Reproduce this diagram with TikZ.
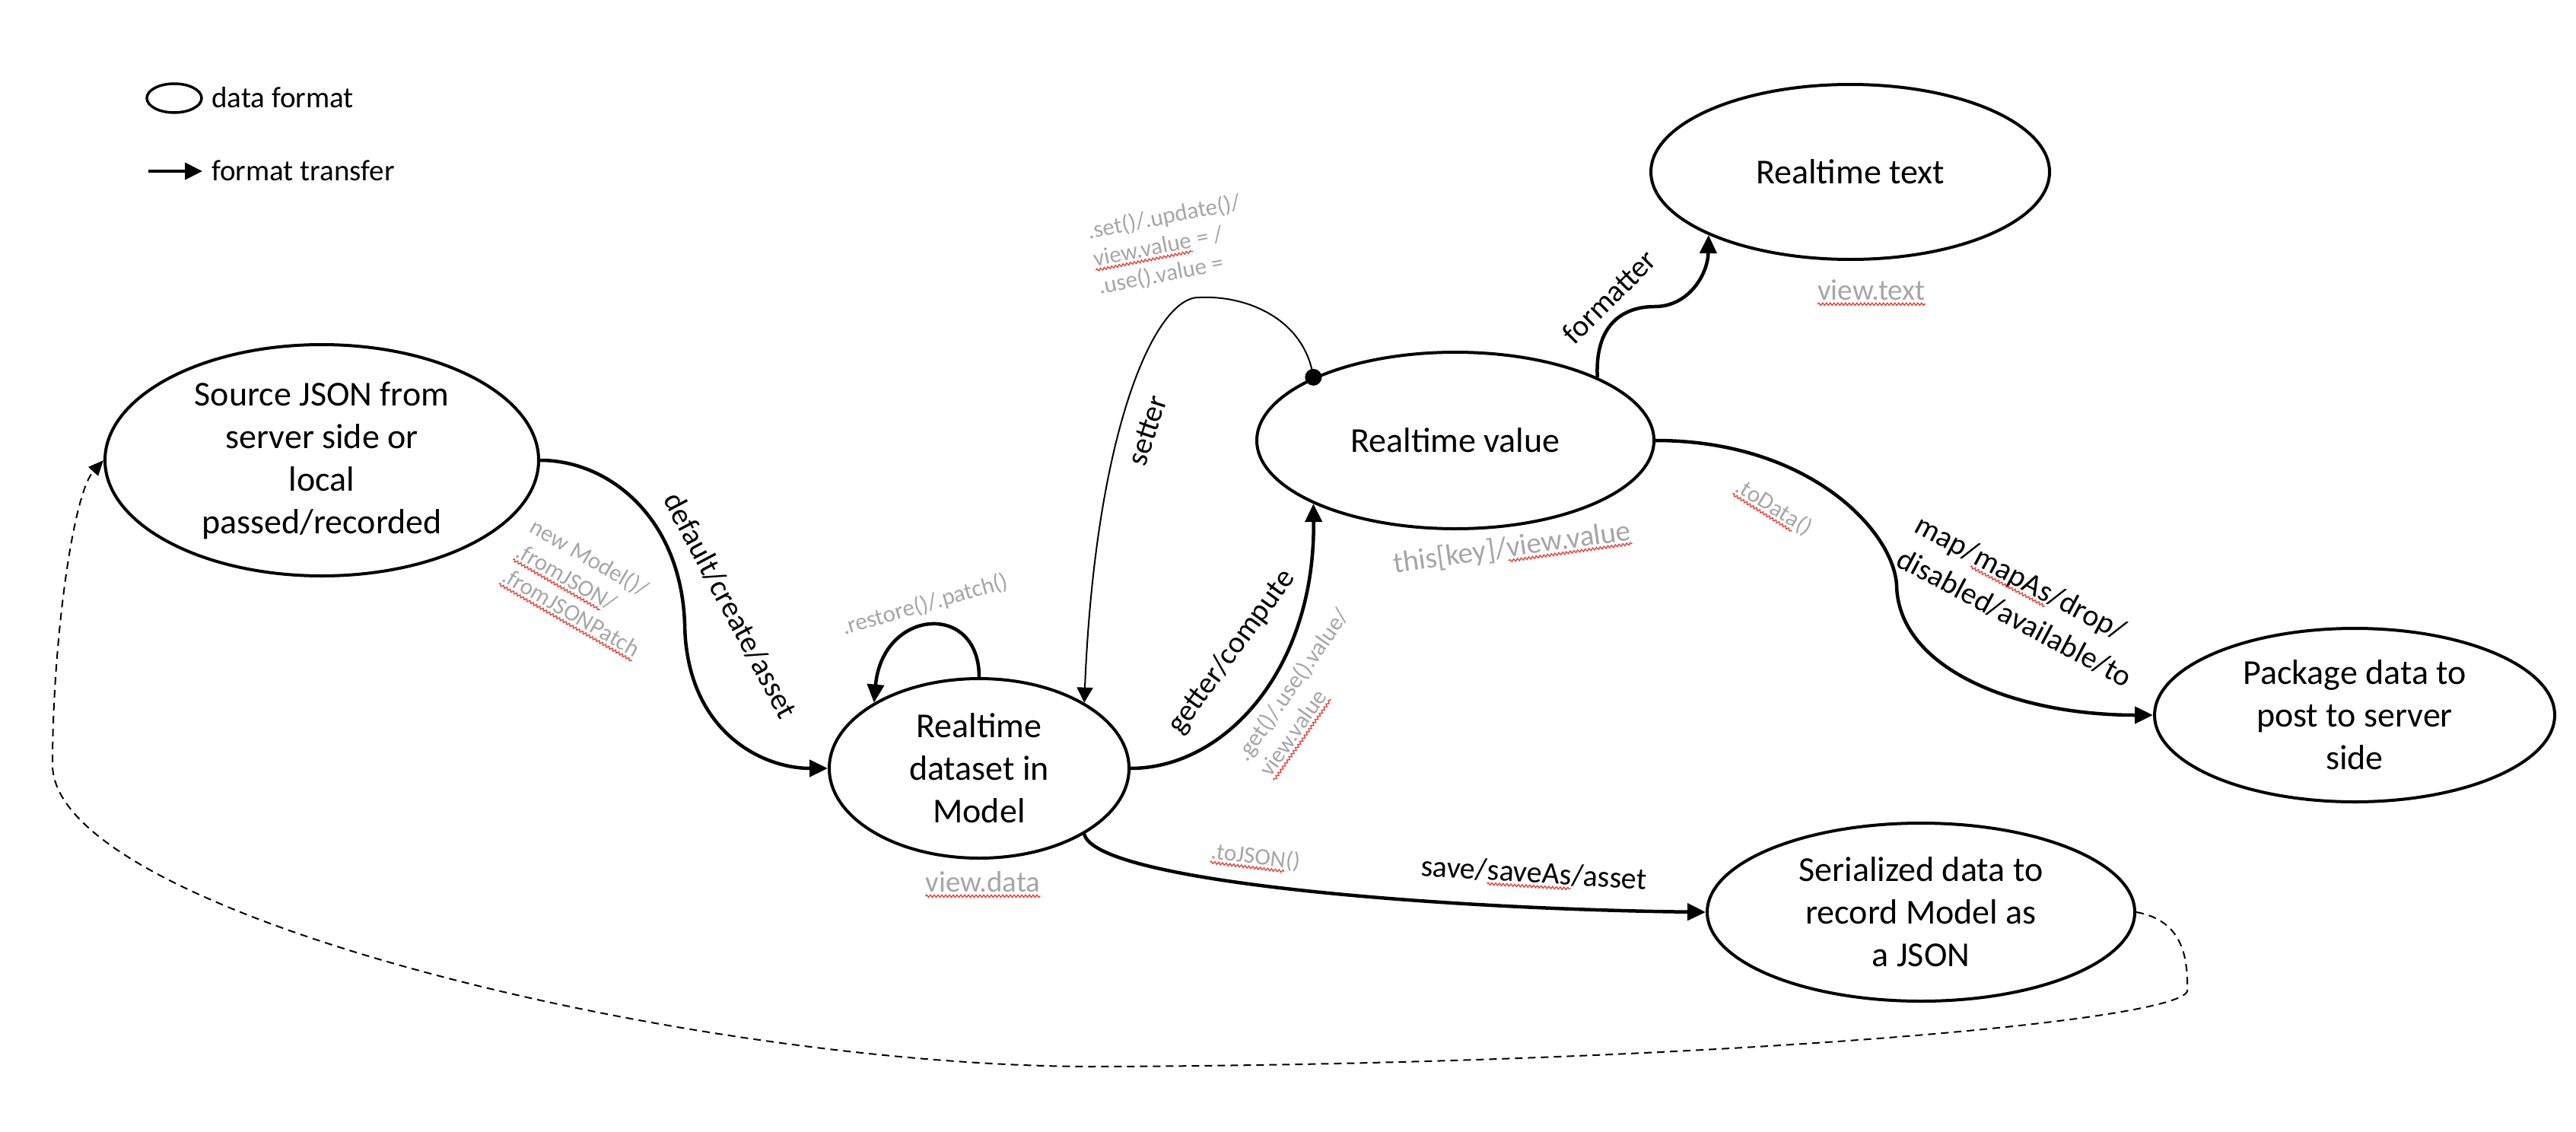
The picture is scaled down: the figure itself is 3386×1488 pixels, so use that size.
\documentclass[tikz,border=0pt]{standalone}
\usepackage{fontspec}
\setmainfont{Carlito}
\usetikzlibrary{arrows.meta,shapes.geometric,decorations.pathmorphing}
\definecolor{lbl}{RGB}{166,166,166}
\definecolor{squig}{RGB}{232,62,50}
\newcommand\sqwave[2]{\tikz[baseline=(sqw.base)]{\node[inner sep=0pt,outer sep=0pt,text=#1](sqw){#2};\draw[squig,line width=1.3pt,decorate,decoration={snake,amplitude=1.6pt,segment length=5pt}]([yshift=-5pt]sqw.base west)--([yshift=-5pt]sqw.base east);}}
\newcommand\sqg[1]{\sqwave{lbl}{#1}}
\newcommand\sqb[1]{\sqwave{black}{#1}}
\begin{document}
\begin{tikzpicture}[x=1pt,y=-1pt,
  ell/.style={draw,ellipse,line width=4pt,inner sep=0pt,align=center,font=\fontsize{46}{56}\selectfont},
  flow/.style={line width=4.5pt,-{Triangle[length=24pt,width=22pt]}},
  thinflow/.style={line width=2pt,-{Triangle[length=20pt,width=21pt]}},
  back/.style={line width=2pt,dash pattern=on 10pt off 7pt,-{Triangle[length=20pt,width=17pt]}},
  elabel/.style={font=\fontsize{40}{50}\selectfont,inner sep=0pt,align=left},
  glabel/.style={font=\fontsize{31}{37}\selectfont,text=lbl,inner sep=0pt,align=left},
  gbig/.style={font=\fontsize{39}{47}\selectfont,text=lbl,inner sep=0pt},
  legtext/.style={font=\fontsize{39}{47}\selectfont,inner sep=0pt,anchor=west}
]
\fill[white] (0,0) rectangle (3386,1488);
\useasboundingbox (0,0) rectangle (3386,1488);

% legend
\node[draw,ellipse,line width=3.5pt,minimum width=72pt,minimum height=38pt,inner sep=0pt] (lgell) at (229,129) {};
\node[legtext] (lgt1) at (278,128) {data format};
\coordinate (la1) at (195,225);
\coordinate (la2) at (266,225);
\draw[line width=4pt,-{Triangle[length=23pt,width=22pt]}] (la1) -- (la2);
\node[legtext] (lgt2) at (278,224) {format transfer};

% nodes
\node[ell,minimum width=570pt,minimum height=304pt] (src) at (423,605) {Source JSON from\\server side or\\local\\passed/recorded};
\node[ell,minimum width=394pt,minimum height=236pt] (ds) at (1287,1010) {Realtime\\dataset in\\Model};
\node[ell,minimum width=522pt,minimum height=232pt] (rv) at (1913,579) {Realtime value};
\node[ell,minimum width=524pt,minimum height=230pt] (rt) at (2432,226) {Realtime text};
\node[ell,minimum width=526pt,minimum height=228pt] (pk) at (3095,940) {Package data to\\post to server\\side};
\node[ell,minimum width=562pt,minimum height=234pt] (ser) at (2525,1199) {Serialized data to\\record Model as\\a JSON};

% source -> dataset
\draw[flow] (src.east) .. controls (800,605) and (895,680) .. (900,820) .. controls (902,960) and (1000,1010) .. (ds.west);
\node[elabel,rotate=-62] (ldef) at (960,796) {default/create/asset};
\node[glabel,rotate=-30] (lnew) at (768,775) {new Model()/\\\sqg{.fromJSON}/\\\sqg{.fromJSONPatch}};

% self loop
\draw[flow] (ds.north) .. controls (1287,790) and (1160,800) .. (ds.148);
\node[glabel,rotate=16] (lrest) at (1216,795) {.restore()/.patch()};
\node[gbig] (lvd) at (1292,1163) {\sqg{view.data}};

% dataset -> realtime value
\draw[flow] (ds.east) .. controls (1610,1010) and (1729,880) .. (rv.204);
\node[elabel,rotate=54] (lgetter) at (1619,857) {getter/compute};
\node[glabel,rotate=55] (lget) at (1716,912) {.get()/.use().value/\\\sqg{view.value}};

% setter
\fill (rv.156) circle (11pt);
\draw[thinflow] (rv.156) .. controls (1715,420) and (1640,388) .. (1577,391) .. controls (1520,388) and (1440,560) .. (ds.32);
\node[elabel,rotate=72] (lsetter) at (1508,566) {setter};
\node[glabel,rotate=11] (lset) at (1537,322) {.set()/.update()/\\\sqg{view.value} = /\\.use().value =};

% formatter
\draw[flow] (rv.24) .. controls (2096,420) and (2140,403) .. (2175,403) .. controls (2220,403) and (2245,360) .. (rt.204);
\node[elabel,rotate=45] (lfmt) at (2115,390) {formatter};
\node[gbig] (lvt) at (2460,385) {\sqg{view.text}};
\node[gbig,rotate=8] (lthis) at (1988,721) {this[key]/\sqg{view.value}};

% realtime value -> package
\draw[flow] (rv.east) .. controls (2380,579) and (2490,700) .. (2493,770) .. controls (2496,880) and (2650,940) .. (pk.west);
\node[glabel,rotate=-32] (ltodata) at (2331,668) {\sqg{.toData}()};
\node[elabel,rotate=-28] (lmap) at (2660,790) {map/\sqb{mapAs}/drop/\\disabled/available/to};

% dataset -> serialized
\draw[flow] (ds.-32) .. controls (1440,1160) and (1900,1195) .. (ser.west);
\node[glabel,rotate=-7] (ltojson) at (1650,1128) {\sqg{.toJSON}()};
\node[elabel,rotate=-3.5] (lsave) at (2016,1150) {save/\sqb{saveAs}/asset};

% serialized -> source (dashed)
\draw[back] (ser.east) .. controls (2870,1210) and (2876,1260) .. (2875,1303) .. controls (2860,1345) and (2200,1400) .. (1433,1402) .. controls (900,1400) and (69,1200) .. (69,1005) .. controls (69,850) and (95,650) .. (src.west);
\end{tikzpicture}
\end{document}
